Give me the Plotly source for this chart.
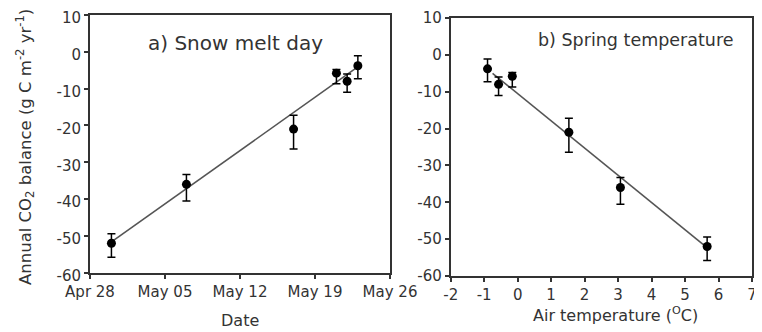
import plotly.graph_objects as go

# ---- data ----
melt_dates = ["2001-04-30", "2001-05-07", "2001-05-17", "2001-05-21", "2001-05-22", "2001-05-23"]
spring_temp = [5.66, 3.07, 1.53, -0.16, -0.57, -0.9]
co2_balance = [-52.0, -36.0, -21.0, -5.8, -8.0, -3.8]
err_plus = [2.6, 2.7, 3.8, 1.0, 2.0, 2.7]
err_minus = [3.8, 4.5, 5.4, 2.9, 3.0, 3.5]

# regression line end points
fit_a_x = ["2001-04-30 04:00", "2001-05-22 19:00"]
fit_a_y = [-51.3, -4.5]
fit_b_x = [-0.75, 5.62]
fit_b_y = [-5.0, -52.0]

date_ticks = ["2001-04-28", "2001-05-05", "2001-05-12", "2001-05-19", "2001-05-26"]
date_labels = ["Apr 28", "May 05", "May 12", "May 19", "May 26"]
temp_ticks = [-2, -1, 0, 1, 2, 3, 4, 5, 6, 7]
temp_labels = ["-2", "-1", "0", "1", "2", "3", "4", "5", "6", "7"]
y_ticks = [10, 0, -10, -20, -30, -40, -50, -60]
y_labels = ["10", "0", "-10", "-20", "-30", "-40", "-50", "-60"]

FONT = "DejaVu Sans, Liberation Sans, sans-serif"
TXT = "#333333"
OFF = 8                     # page body margin
W, H = 762 - OFF, 332 - OFF  # figure size so it fits the window exactly


def px(x):
    return (x - OFF) / W


def py(y):
    return 1 - (y - OFF) / H


fig = go.Figure()

err = dict(type="data", array=err_plus, arrayminus=err_minus, color="black",
           thickness=1.5, width=4)

fig.add_trace(go.Scatter(x=fit_a_x, y=fit_a_y, mode="lines",
                         line=dict(color="#555555", width=1.6),
                         xaxis="x", yaxis="y", showlegend=False))
fig.add_trace(go.Scatter(x=melt_dates, y=co2_balance, mode="markers",
                         marker=dict(color="black", size=9), error_y=err,
                         xaxis="x", yaxis="y", showlegend=False))
fig.add_trace(go.Scatter(x=fit_b_x, y=fit_b_y, mode="lines",
                         line=dict(color="#555555", width=1.6),
                         xaxis="x2", yaxis="y2", showlegend=False))
fig.add_trace(go.Scatter(x=spring_temp, y=co2_balance, mode="markers",
                         marker=dict(color="black", size=9), error_y=err,
                         xaxis="x2", yaxis="y2", showlegend=False))

axis_common = dict(showline=True, linecolor="#333333", linewidth=1.8, mirror=True,
                   ticks="outside", ticklen=4, tickcolor="#333333", tickwidth=1.5,
                   showgrid=False, zeroline=False, automargin=False,
                   ticklabeloverflow="allow",
                   tickfont=dict(family=FONT, size=15, color=TXT))


def ann(text, x, y, size=16, angle=0):
    return dict(text=text, xref="paper", yref="paper", x=px(x), y=py(y),
                xanchor="center", yanchor="middle", showarrow=False, textangle=angle,
                font=dict(family=FONT, size=size, color=TXT))


fig.update_layout(
    width=W, height=H,
    margin=dict(l=0, r=0, t=0, b=0),
    paper_bgcolor="white", plot_bgcolor="white",
    font=dict(family=FONT, color=TXT),
    xaxis=dict(domain=[px(90), px(390)], type="date",
               range=["2001-04-28", "2001-05-26"],
               tickvals=date_ticks, ticktext=date_labels, anchor="y",
               **axis_common),
    yaxis=dict(domain=[py(272.7), py(15)], range=[-60, 10],
               tickvals=y_ticks, ticktext=y_labels, anchor="x",
               ticklabelshift=3,
               **axis_common),
    xaxis2=dict(domain=[px(450.7), px(752)], range=[-2, 7],
                tickvals=temp_ticks, ticktext=temp_labels, anchor="y2",
                **axis_common),
    yaxis2=dict(domain=[py(276), py(18)], range=[-60, 10],
                tickvals=y_ticks, ticktext=y_labels, anchor="x2",
                **axis_common),
    annotations=[
        ann("a) Snow melt day", 236, 43, size=20),
        ann("b) Spring temperature", 636, 40, size=17.5),
        ann("Date", 240, 320),
        ann("Air temperature (<sup>O</sup>C)", 615, 314),
        ann("Annual CO<sub>2</sub> balance (g C m<sup>-2</sup> yr<sup>-1</sup>)", 25, 147,
            size=16.5, angle=-90),
    ],
)

fig.write_html("out.html")
